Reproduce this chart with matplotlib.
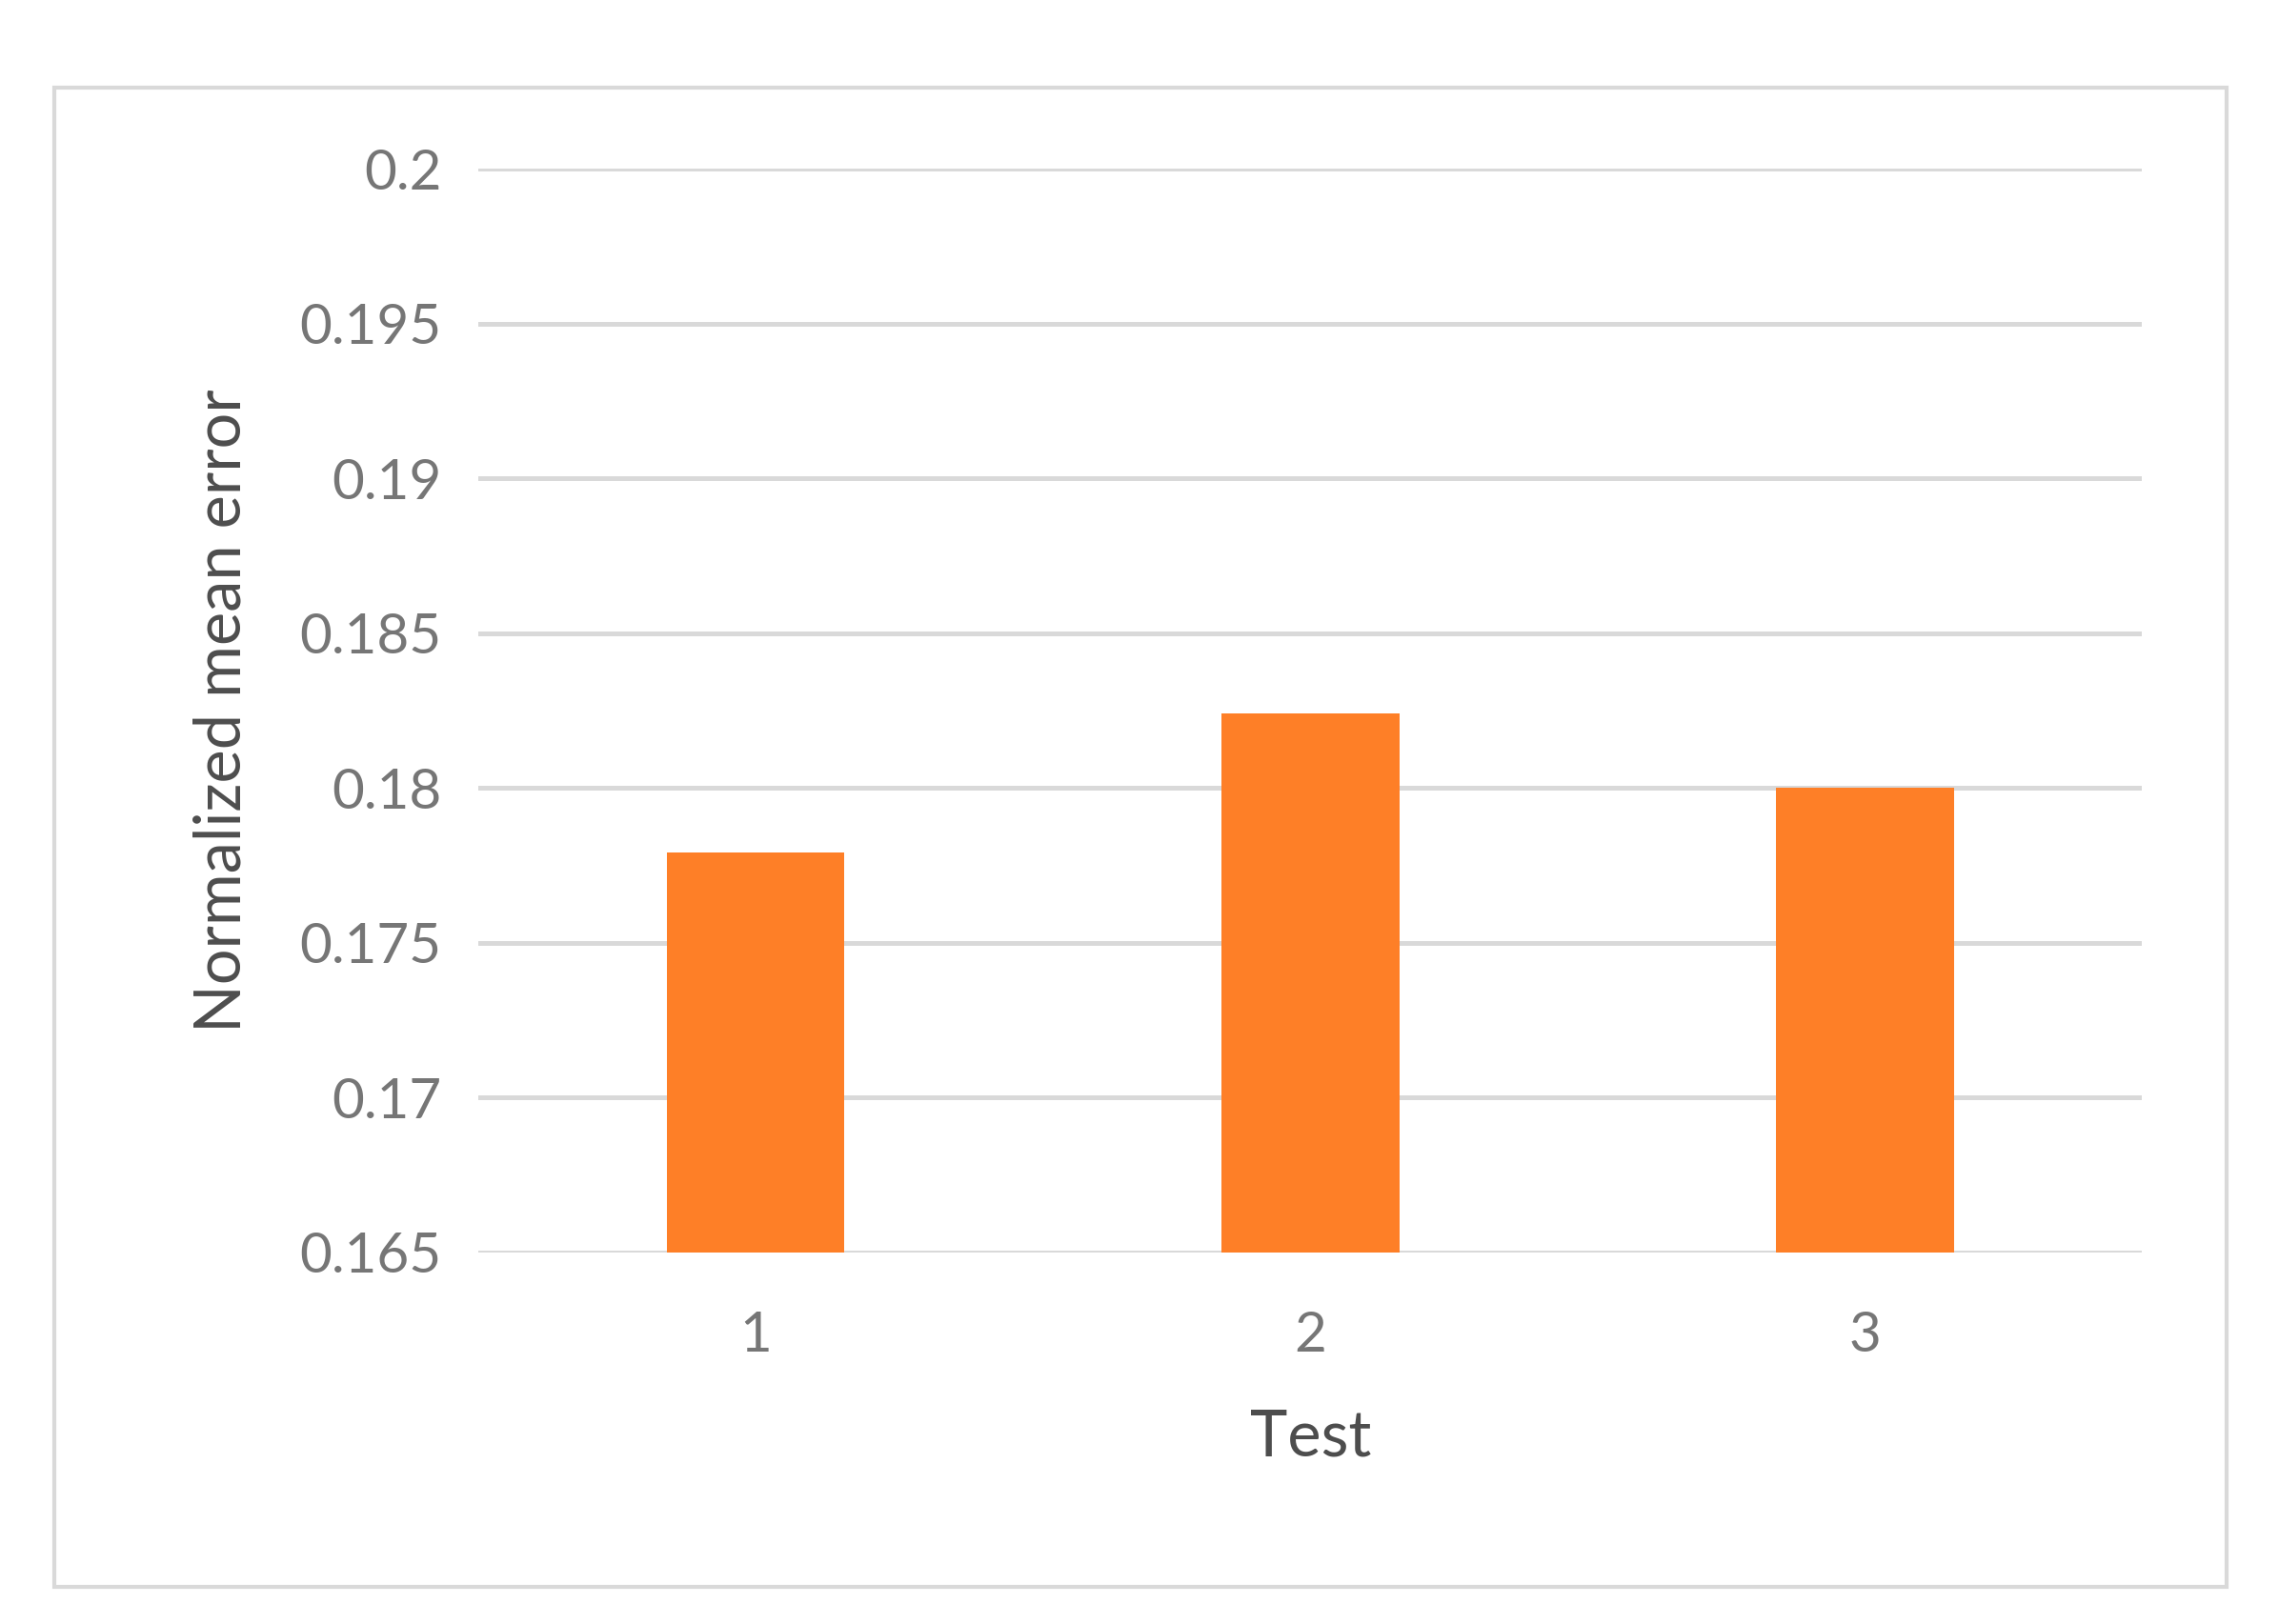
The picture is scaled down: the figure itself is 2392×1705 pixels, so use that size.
import matplotlib
matplotlib.use("Agg")
import matplotlib.pyplot as plt
from matplotlib.patches import Rectangle

categories = ["1", "2", "3"]
values = [0.1779, 0.1824, 0.1800]
yticks = [0.165, 0.17, 0.175, 0.18, 0.185, 0.19, 0.195, 0.2]
ytick_labels = ["0.165", "0.17", "0.175", "0.18", "0.185", "0.19", "0.195", "0.2"]

plt.rcParams['font.family'] = ['Lato', 'DejaVu Sans']
fig = plt.figure(figsize=(11.96, 8.525), dpi=200)
fig.patches.append(Rectangle((0.024, 0.023), 0.953, 0.923, transform=fig.transFigure,
                             fill=False, edgecolor='#d9d9d9', linewidth=1.5))
ax = fig.add_axes([0.210, 0.229, 0.730, 0.667])
x = range(len(categories))
ax.bar(x, values, width=0.32, color='#fe7f27', zorder=3)
ax.set_ylim(0.165, 0.2)
ax.set_xlim(-0.5, 2.5)
ax.set_yticks(yticks)
ax.set_yticklabels(ytick_labels)
ax.set_xticks(list(x))
ax.set_xticklabels(categories)
ax.grid(axis='y', color='#d9d9d9', linewidth=1.8, zorder=0)
for s in ax.spines.values():
    s.set_visible(False)
ax.tick_params(length=0, labelsize=21, labelcolor='#767676', pad=14)
ax.tick_params(axis='x', pad=22)
ax.set_xlabel("Test", fontsize=24, color='#4d4d4d', labelpad=18)
ax.set_ylabel("Normalized mean error", fontsize=24, color='#4d4d4d', labelpad=18)
fig.savefig("out.png", dpi=200)
